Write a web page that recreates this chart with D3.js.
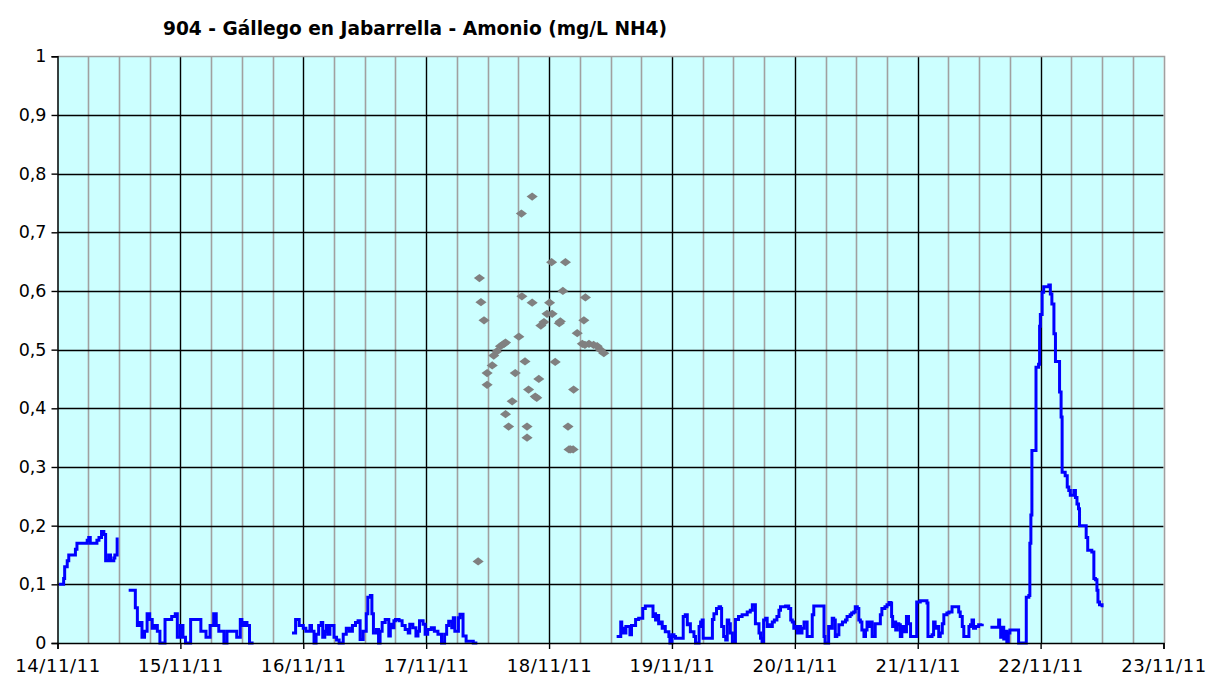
<!DOCTYPE html>
<html>
<head>
<meta charset="utf-8">
<script src="https://cdn.jsdelivr.net/npm/d3@7"></script>
<style>
  html, body { margin: 0; padding: 0; background: #ffffff; }
  svg { display: block; }
  text { font-family: "DejaVu Sans", Verdana, sans-serif; fill: #000; }
</style>
</head>
<body>
<svg id="chart" width="1209" height="680"></svg>
<script>
// ---------------- DATA ----------------
const chartTitle = "904 - Gállego en Jabarrella - Amonio (mg/L NH4)";
const xTickLabels = ["14/11/11","15/11/11","16/11/11","17/11/11","18/11/11","19/11/11","20/11/11","21/11/11","22/11/11","23/11/11"];
const yTickValues = [0,0.1,0.2,0.3,0.4,0.5,0.6,0.7,0.8,0.9,1];
const yTickLabels = ["0","0,1","0,2","0,3","0,4","0,5","0,6","0,7","0,8","0,9","1"];

// Blue series: [hours since 14/11/11 00:00, mg/L]
const blueSeg1 = [[0.3,0.10],[1.2,0.11],[1.4,0.13],[1.9,0.14],[2.2,0.15],[3.5,0.16],[3.8,0.17],[5.8,0.175],[6.1,0.18],[6.4,0.17],[7.7,0.175],[8.1,0.18],[8.6,0.19],[9.05,0.185],[9.4,0.14],[10.0,0.15],[10.35,0.14],[11.0,0.145],[11.2,0.15],[11.65,0.18]];
const blueSeg2 = [[13.9,0.09],[15.0,0.09],[15.2,0.06],[15.6,0.03],[16.0,0.035],[16.5,0.01],[17.0,0.02],[17.5,0.05],[18.0,0.04],[18.5,0.025],[19.0,0.03],[19.5,0.02],[20.0,0.0],[21.0,0.04],[22.3,0.045],[23.0,0.05],[23.4,0.01],[24.0,0.03],[24.5,0.01],[25.0,0.0],[26.0,0.04],[27.5,0.04],[28.0,0.02],[29.0,0.01],[29.8,0.03],[30.5,0.05],[31.0,0.03],[31.5,0.02],[32.5,0.0],[33.1,0.02],[34.5,0.02],[35.0,0.01],[35.7,0.04],[36.0,0.03],[36.5,0.035],[37.0,0.03],[37.5,0.0],[38.3,0.0]];
const blueSeg3 = [[45.8,0.017],[46.5,0.04],[47.2,0.03],[48.0,0.025],[48.5,0.02],[49.3,0.03],[49.6,0.02],[50.1,0.0],[50.5,0.015],[51.0,0.03],[51.5,0.035],[51.8,0.01],[52.2,0.02],[52.5,0.03],[52.8,0.015],[53.2,0.03],[54.0,0.01],[54.5,0.005],[55.0,0.0],[55.8,0.015],[56.4,0.025],[57.0,0.02],[57.6,0.03],[58.2,0.035],[58.7,0.038],[59.1,0.006],[59.7,0.02],[60.3,0.05],[60.6,0.078],[61.1,0.081],[61.4,0.05],[61.7,0.017],[62.3,0.023],[62.7,0.0],[63.0,0.02],[63.4,0.035],[64.0,0.04],[64.7,0.012],[65.0,0.032],[65.4,0.026],[65.7,0.038],[66.0,0.04],[66.7,0.038],[67.3,0.03],[67.9,0.023],[68.5,0.017],[68.8,0.032],[69.4,0.026],[70.0,0.012],[70.4,0.02],[70.7,0.038],[71.4,0.032],[71.8,0.015],[72.3,0.023],[73.0,0.026],[73.6,0.02],[74.3,0.015],[75.0,0.0],[75.6,0.015],[76.0,0.03],[76.4,0.037],[77.0,0.026],[77.3,0.043],[77.6,0.02],[78.3,0.043],[78.6,0.049],[78.9,0.049],[79.2,0.012],[79.8,0.003],[81.2,0.0],[82.0,0.0]];
const blueSeg4 = [[109.2,0.011],[110.0,0.036],[110.2,0.017],[110.5,0.025],[110.8,0.017],[111.0,0.028],[111.8,0.014],[112.1,0.03],[112.9,0.04],[113.5,0.042],[114.3,0.059],[114.8,0.063],[116.1,0.063],[116.3,0.045],[116.5,0.05],[116.8,0.039],[117.1,0.047],[117.4,0.033],[117.8,0.036],[118.1,0.025],[118.4,0.028],[118.7,0.019],[119.4,0.011],[119.6,0.0],[120.0,0.014],[120.4,0.011],[120.7,0.008],[122.0,0.008],[122.2,0.045],[122.6,0.048],[123.0,0.031],[123.3,0.033],[123.6,0.019],[124.3,0.011],[124.6,0.0],[125.3,0.028],[125.6,0.036],[125.9,0.039],[126.1,0.008],[127.9,0.04],[128.2,0.05],[128.7,0.059],[129.2,0.062],[129.5,0.059],[129.7,0.028],[130.1,0.011],[130.5,0.005],[130.8,0.039],[131.1,0.033],[131.4,0.017],[131.8,0.002],[132.4,0.04],[133.0,0.045],[133.7,0.048],[134.7,0.053],[135.3,0.056],[135.7,0.065],[136.3,0.033],[137.0,0.017],[137.3,0.008],[137.6,0.002],[137.9,0.039],[138.3,0.042],[138.6,0.028],[138.9,0.031],[139.2,0.028],[139.6,0.036],[140.0,0.039],[140.5,0.045],[140.9,0.056],[141.2,0.062],[142.2,0.063],[142.8,0.059],[143.2,0.039],[143.5,0.036],[143.8,0.025],[144.1,0.028],[144.5,0.017],[144.8,0.028],[145.1,0.017],[145.4,0.025],[145.8,0.036],[146.4,0.011],[147.4,0.048],[147.7,0.063],[149.6,0.063],[149.7,0.011],[149.9,0.0],[150.6,0.028],[151.0,0.025],[151.3,0.042],[151.6,0.039],[151.9,0.011],[152.2,0.014],[152.6,0.031],[153.3,0.036],[153.9,0.039],[154.2,0.045],[154.8,0.048],[155.1,0.051],[155.5,0.053],[155.8,0.062],[156.2,0.059],[156.5,0.039],[156.8,0.036],[157.1,0.022],[157.5,0.011],[157.8,0.022],[158.1,0.036],[158.4,0.028],[158.8,0.036],[159.1,0.011],[159.7,0.033],[160.7,0.048],[161.0,0.059],[161.6,0.062],[162.0,0.065],[162.4,0.069],[162.7,0.068],[162.9,0.045],[163.1,0.028],[163.4,0.036],[163.7,0.022],[164.0,0.033],[164.3,0.031],[164.6,0.011],[164.9,0.028],[165.3,0.019],[165.8,0.045],[166.2,0.033],[166.6,0.011],[167.8,0.070],[168.5,0.072],[169.8,0.068],[170.0,0.011],[170.8,0.014],[171.1,0.036],[171.4,0.025],[171.8,0.028],[172.1,0.011],[172.4,0.017],[172.8,0.033],[173.1,0.048],[173.7,0.051],[174.1,0.053],[174.7,0.062],[176.0,0.053],[176.3,0.045],[176.7,0.028],[177.0,0.011],[178.0,0.028],[178.3,0.031],[178.6,0.039],[178.9,0.025],[179.3,0.028],[179.9,0.031],[180.6,0.033]];
const blueSeg5 = [[182.2,0.027],[183.6,0.027],[183.8,0.039],[184.0,0.027],[184.2,0.01],[184.5,0.027],[184.8,0.007],[185.1,0.02],[185.4,0.002],[185.7,0.017],[186.0,0.022],[187.4,0.022],[187.7,0.0],[189.1,0.0],[189.2,0.078],[189.7,0.081],[189.9,0.17],[190.1,0.218],[190.3,0.328],[191.0,0.328],[191.1,0.47],[191.6,0.475],[191.8,0.54],[191.95,0.56],[192.3,0.598],[192.6,0.607],[193.6,0.61],[193.9,0.595],[194.2,0.578],[194.6,0.527],[194.9,0.48],[195.5,0.48],[195.7,0.428],[196.0,0.385],[196.2,0.291],[196.8,0.285],[197.2,0.266],[197.5,0.26],[197.8,0.252],[198.5,0.26],[198.8,0.248],[199.1,0.237],[199.4,0.229],[199.6,0.2],[200.7,0.2],[200.9,0.18],[201.2,0.158],[202.0,0.155],[202.4,0.11],[202.7,0.108],[203.0,0.09],[203.2,0.07],[203.5,0.065],[204.0,0.061]];
const blueSegments = [blueSeg1, blueSeg2, blueSeg3, blueSeg4, blueSeg5];

// Gray series (discrete samples)
const grayHours  = [82.15,82.4,82.7,83.3,83.9,83.9,84.9,85.2,85.8,86.5,87.2,87.5,87.5,88.1,88.8,89.4,90.1,90.6,90.7,91.3,91.7,91.7,92.0,92.7,92.7,93.3,93.6,94.0,94.4,95.0,95.6,96.1,96.5,96.6,97.2,98.0,98.2,98.7,99.2,99.7,99.9,100.2,100.7,100.8,101.5,102.5,102.8,103.0,103.1,103.8,104.7,105.4,106.0,106.7];
const grayValues = [0.139,0.622,0.581,0.55,0.46,0.44,0.473,0.49,0.497,0.506,0.51,0.512,0.39,0.369,0.412,0.46,0.522,0.732,0.591,0.48,0.369,0.35,0.432,0.761,0.58,0.42,0.418,0.45,0.541,0.547,0.561,0.58,0.649,0.561,0.479,0.545,0.548,0.6,0.649,0.369,0.33,0.33,0.33,0.432,0.528,0.51,0.55,0.508,0.589,0.51,0.508,0.506,0.5,0.494];

// ---------------- CHART ----------------
const svg = d3.select("#chart");
const start = new Date(2011, 10, 14);
const end = new Date(2011, 10, 23);
const toDate = h => new Date(start.getTime() + h * 3600e3);

const x = d3.scaleTime().domain([start, end]).range([57.5, 1163.5]);
const y = d3.scaleLinear().domain([0, 1]).range([643, 56.3]);

// plot background
svg.append("rect")
  .attr("x", x(start)).attr("y", y(1))
  .attr("width", x(end) - x(start)).attr("height", y(0) - y(1))
  .attr("fill", "#CCFFFF");

// minor vertical gridlines (every 6 h)
const minor = d3.timeHour.every(6).range(start, end).filter(d => d.getHours() !== 0);
svg.append("g").selectAll("line").data(minor).join("line")
  .attr("x1", d => Math.round(x(d)) + 0.5).attr("x2", d => Math.round(x(d)) + 0.5)
  .attr("y1", y(1)).attr("y2", y(0))
  .attr("stroke", "#A0A0A0").attr("stroke-width", 1.6);

// major vertical gridlines (days)
const days = d3.timeDay.range(d3.timeDay.offset(start, 1), end);
svg.append("g").selectAll("line").data(days).join("line")
  .attr("x1", d => Math.round(x(d)) + 0.5).attr("x2", d => Math.round(x(d)) + 0.5)
  .attr("y1", y(1)).attr("y2", y(0))
  .attr("stroke", "#000").attr("stroke-width", 1.4);

// horizontal gridlines
svg.append("g").selectAll("line").data(yTickValues.filter(v => v > 0 && v < 1)).join("line")
  .attr("x1", x(start)).attr("x2", x(end))
  .attr("y1", d => Math.round(y(d)) + 0.5).attr("y2", d => Math.round(y(d)) + 0.5)
  .attr("stroke", "#000").attr("stroke-width", 1.4);

// top & right border (gray)
svg.append("path")
  .attr("d", `M${x(start)},${Math.round(y(1)) + 0.5}H${Math.round(x(end)) + 0.5}V${y(0)}`)
  .attr("fill", "none").attr("stroke", "#A0A0A0").attr("stroke-width", 1.6);

// blue line segments
const line = d3.line()
  .x(d => x(toDate(d[0])))
  .y(d => y(d[1]))
  .curve(d3.curveStepAfter);
svg.append("g").selectAll("path").data(blueSegments).join("path")
  .attr("d", line)
  .attr("fill", "none").attr("stroke", "#0000FF").attr("stroke-width", 3)
  .attr("stroke-linejoin", "miter");

// gray diamonds
const diamond = d3.symbol().type(d3.symbolSquare).size(34);
svg.append("g").selectAll("path").data(grayHours.map((h, i) => [h, grayValues[i]])).join("path")
  .attr("d", diamond)
  .attr("transform", d => `translate(${x(toDate(d[0]))},${y(d[1])}) scale(1.35,1) rotate(45)`)
  .attr("fill", "#808080");

// axes
const yAxis = d3.axisLeft(y).tickValues(yTickValues)
  .tickFormat((d, i) => yTickLabels[i]).tickSize(6).tickPadding(5);
const gy = svg.append("g").attr("transform", `translate(${x(start)},0)`).call(yAxis);
gy.select(".domain").attr("stroke", "#000").attr("stroke-width", 1.5);
gy.selectAll(".tick line").attr("stroke", "#000").attr("stroke-width", 1.4);
gy.selectAll("text").style("font-size", "17.5px").attr("fill", "#000");

const xTicks = d3.timeDay.range(start, d3.timeDay.offset(end, 1));
const xAxis = d3.axisBottom(x).tickValues(xTicks)
  .tickFormat((d, i) => xTickLabels[i]).tickSize(6).tickPadding(10);
const gx = svg.append("g").attr("transform", `translate(0,${y(0)})`).call(xAxis);
gx.select(".domain").attr("stroke", "#000").attr("stroke-width", 1.5);
gx.selectAll(".tick line").attr("stroke", "#000").attr("stroke-width", 1.4);
gx.selectAll("text").style("font-size", "18px").style("letter-spacing", "0.6px").attr("fill", "#000");

// title
svg.append("text")
  .attr("x", 415).attr("y", 35)
  .attr("text-anchor", "middle")
  .style("font-size", "18.6px").style("font-weight", "bold")
  .text(chartTitle);
</script>
</body>
</html>
